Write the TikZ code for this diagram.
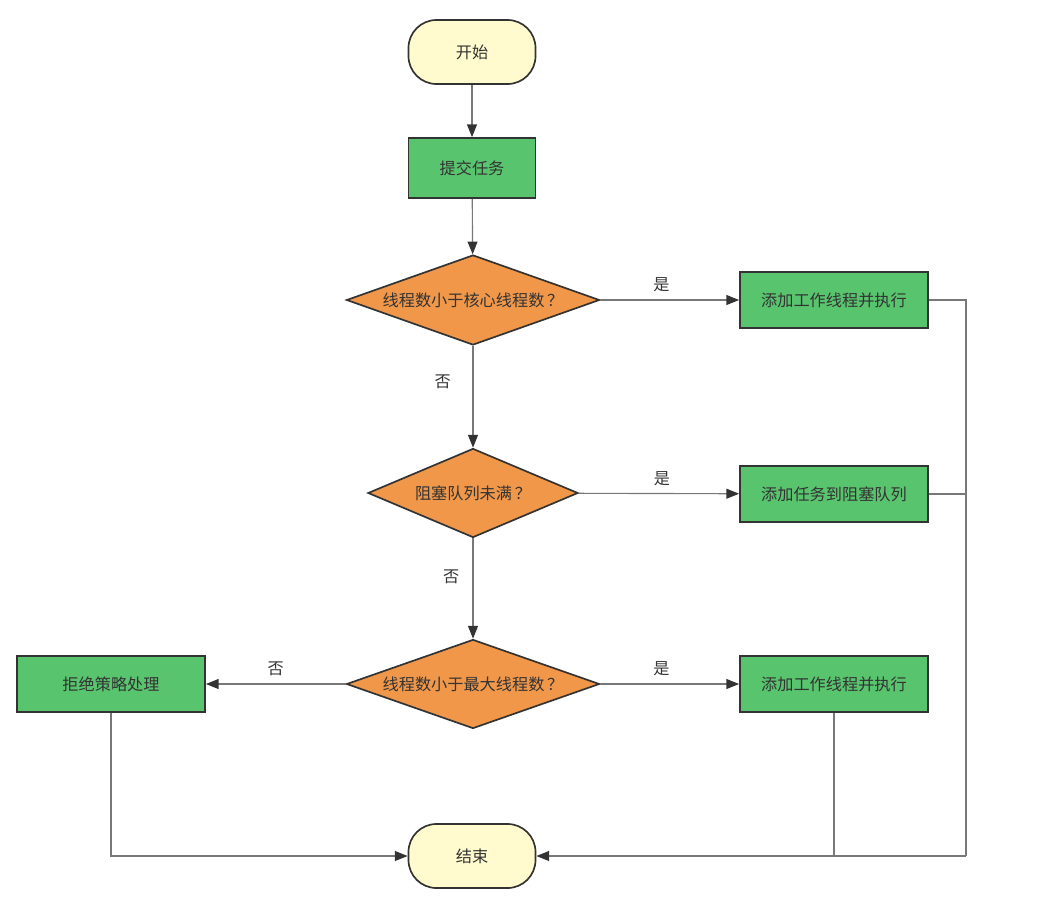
\documentclass[tikz,border=0pt]{standalone}
\usepackage{fontspec}
\setmainfont{Noto Sans CJK SC}
\usepackage{tikz}
\usetikzlibrary{arrows.meta,calc,positioning,shapes.geometric}
\definecolor{flowyellow}{RGB}{255,251,206}
\definecolor{flowgreen}{RGB}{89,196,110}
\definecolor{floworange}{RGB}{240,151,74}
\definecolor{flowedge}{RGB}{51,51,51}
\definecolor{flowline}{RGB}{120,120,120}
\definecolor{flowtext}{RGB}{51,51,51}

\begin{document}
\begin{tikzpicture}[x=0.025cm, y=-0.025cm,
    terminal/.style={draw=flowedge, fill=flowyellow, line width=1.2pt, rounded corners=0.7cm, minimum width=3.175cm, minimum height=1.6cm, font=\fontsize{11.5}{13}\selectfont, text=flowtext},
    taskbox/.style={draw=flowedge, fill=flowgreen, line width=1.2pt, minimum width=4.7cm, minimum height=1.4cm, font=\fontsize{11.5}{13}\selectfont, text=flowtext},
    decision/.style={diamond, draw=flowedge, fill=floworange, line width=1.2pt, inner sep=0pt, shape aspect=2.81, minimum width=6.325cm, minimum height=2.25cm, font=\fontsize{11.5}{13}\selectfont, text=flowtext},
    flow/.style={draw=flowline, line width=0.8pt, -{Triangle[length=9pt, width=7pt, color=flowedge]}},
    plain/.style={draw=flowline, line width=0.8pt},
    answer/.style={font=\fontsize{11.5}{13}\selectfont, text=flowtext}
  ]
  \useasboundingbox (0,0) rectangle (1041,915);

  % main column
  \node[terminal] (start) at (472,52) {开始};
  \node[taskbox, minimum width=3.175cm, minimum height=1.5cm] (submit) at (472,168) {提交任务};
  \node[decision] (core) at (473,300) {线程数小于核心线程数\,？};
  \node[decision, shape aspect=2.36, minimum width=5.25cm, minimum height=2.225cm] (queue) at (473,493) {阻塞队列未满\,？};
  \node[decision, minimum height=2.225cm] (max) at (473,684) {线程数小于最大线程数\,？};
  \node[terminal] (end) at (472,856) {结束};

  % side boxes
  \node[taskbox] (addcore) at (834,300) {添加工作线程并执行};
  \node[taskbox] (addqueue) at (834,494) {添加任务到阻塞队列};
  \node[taskbox] (addmax) at (834,684) {添加工作线程并执行};
  \node[taskbox] (reject) at (111,684) {拒绝策略处理};

  \coordinate (rail) at (966,856);

  % connectors
  \draw[flow] (start) -- (submit);
  \draw[flow] (submit) -- (core);
  \draw[flow] (core) -- node[answer, left=12pt, pos=0.35] {否} (queue);
  \draw[flow] (queue) -- node[answer, left=6pt, pos=0.38] {否} (max);
  \draw[flow] (core) -- node[answer, above=2pt, pos=0.44] {是} (addcore);
  \draw[flow] (queue) -- node[answer, above=2pt, pos=0.52] {是} (addqueue);
  \draw[flow] (max) -- node[answer, above=2pt, pos=0.44] {是} (addmax);
  \draw[flow] (max) -- node[answer, above=2pt, pos=0.5] {否} (reject);

  % back to the end
  \draw[plain] (addcore.east) -| (rail);
  \draw[flow] (rail) -- (end.east);
  \draw[plain] (addqueue.east) -- (addqueue.east -| rail);
  \draw[plain] (addmax.south) -- (addmax.south |- end.east);
  \draw[flow] (reject.south) |- (end.west);
\end{tikzpicture}
\end{document}
